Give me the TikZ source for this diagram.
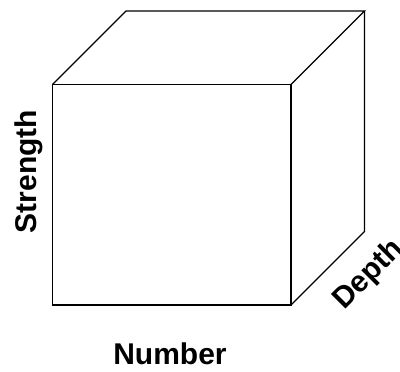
\documentclass[tikz,border=0pt]{standalone}
\usepackage{fontspec}
\setmainfont{Liberation Sans}
\usepackage{tikz}
\usetikzlibrary{positioning, calc}

\begin{document}
\begin{tikzpicture}[
  x=1pt, y=1pt,
  edge/.style = {line width=1.2pt, line join=miter, color=black},
  axislabel/.style = {font=\fontsize{30}{35}\selectfont\bfseries, inner sep=0pt},
]
\useasboundingbox (0,0) rectangle (400,372);

% Front face corners
\coordinate (fbl) at (52.5,67);
\coordinate (fbr) at (291,67);
\coordinate (ftr) at (291,287.5);
\coordinate (ftl) at (52.5,287.5);

% Back corners
\coordinate (btl) at ($(ftl)+(73.5,73.5)$);
\coordinate (btr) at ($(ftr)+(73.5,73.5)$);
\coordinate (bbr) at ($(fbr)+(73.5,73.5)$);

% Cube
\draw[edge] (fbl) -- (fbr) -- (ftr) -- (ftl) -- cycle;
\draw[edge] (ftl) -- (btl) -- (btr) -- (ftr);
\draw[edge] (btr) -- (bbr) -- (fbr);

% Labels
\node[axislabel, anchor=base] (number) at (170,7) {Number};
\node[axislabel, anchor=base, rotate=90] (strength) at (36,200.5) {Strength};
\node[axislabel, rotate=45] (depth) at (369,97) {Depth};

\end{tikzpicture}
\end{document}
